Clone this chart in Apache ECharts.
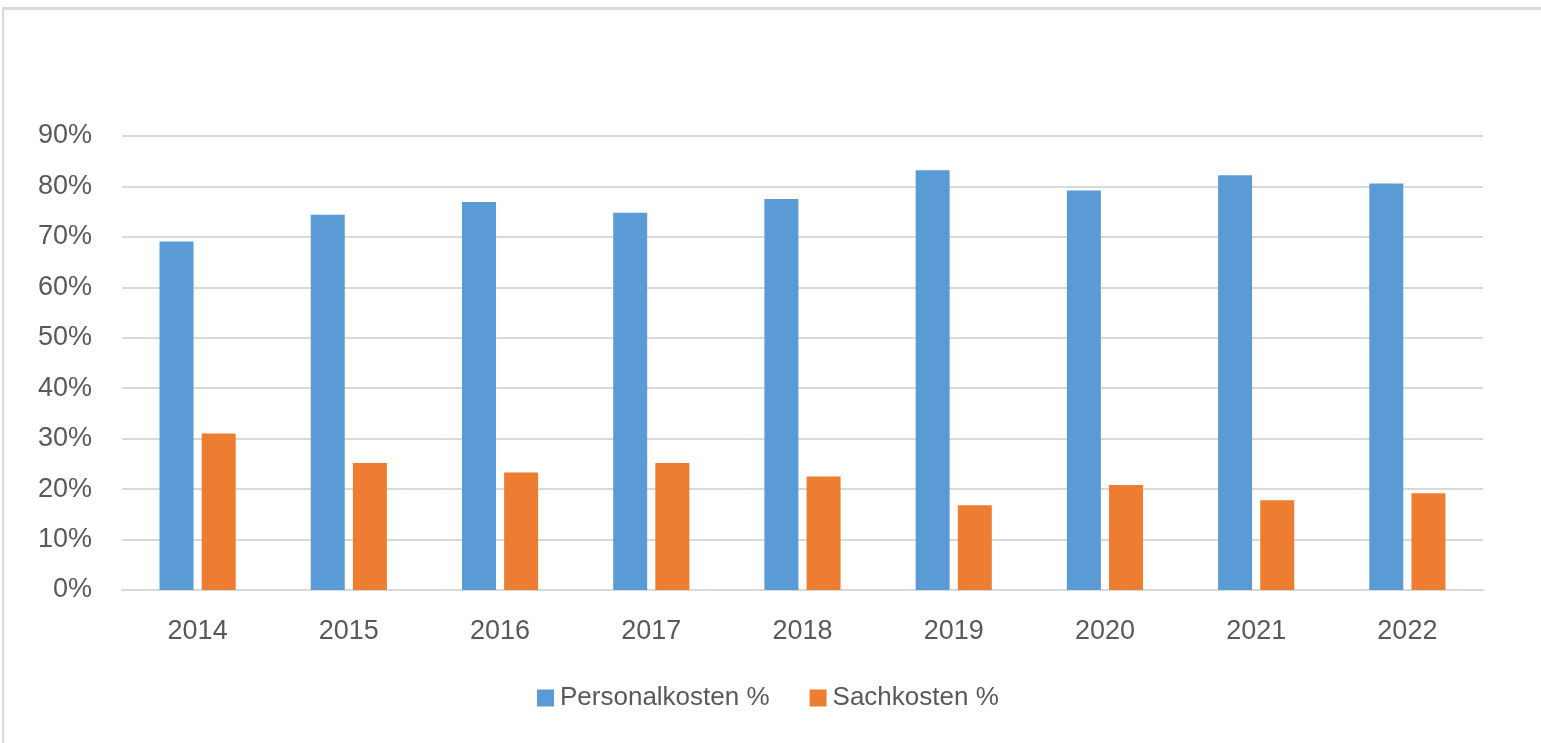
<!DOCTYPE html>
<html>
<head>
<meta charset="utf-8">
<title>Personalkosten / Sachkosten</title>
<script src="https://cdn.jsdelivr.net/npm/echarts@6/dist/echarts.min.js"></script>
<style>
  html, body { margin: 0; padding: 0; background: #fff; }
  #frame {
    position: absolute; left: 2px; top: 7px; width: 1600px; height: 800px;
    border-top: 3px solid #d9d9d9; border-left: 2px solid #d9d9d9;
  }
  #chart { position: absolute; left: 0; top: 0; width: 1541px; height: 743px; }
</style>
</head>
<body>
<div id="frame"></div>
<div id="chart"></div>
<script>
// years on the x axis
var years = ['2014', '2015', '2016', '2017', '2018', '2019', '2020', '2021', '2022']
// shares in percent
var personalkosten = [69.1, 74.4, 76.9, 74.8, 77.5, 83.2, 79.2, 82.2, 80.6]
var sachkosten = [31.0, 25.2, 23.3, 25.2, 22.5, 16.8, 20.8, 17.8, 19.2]
var seriesNames = ['Personalkosten %', 'Sachkosten %']

var chart = null

function initChart() {
  chart = echarts.init(document.getElementById('chart'))
  chart.setOption({
    animation: false,
    textStyle: {
      fontFamily: 'Liberation Sans, Arial, sans-serif'
    },
    grid: {
      left: 122,
      right: 58,
      top: 136,
      bottom: 153,
      containLabel: false
    },
    legend: {
      data: seriesNames,
      left: 532,
      bottom: 27,
      itemWidth: 17,
      itemHeight: 17,
      itemGap: 40,
      icon: 'rect',
      textStyle: {
        color: '#595959',
        fontSize: 26,
        padding: [0, 0, 0, 1]
      }
    },
    xAxis: [{
      type: 'category',
      data: years,
      axisLine: {
        show: true,
        lineStyle: { color: '#d9d9d9', width: 2 }
      },
      axisTick: { show: false },
      axisLabel: {
        color: '#595959',
        fontSize: 27,
        margin: 28
      }
    }],
    yAxis: [{
      type: 'value',
      min: 0,
      max: 90,
      interval: 10,
      axisLine: { show: false },
      axisTick: { show: false },
      axisLabel: {
        formatter: '{value}%',
        color: '#595959',
        fontSize: 27,
        margin: 30
      },
      splitLine: {
        lineStyle: { color: '#d9d9d9', width: 2 }
      }
    }],
    series: [{
      name: seriesNames[0],
      type: 'bar',
      data: personalkosten,
      barWidth: 34,
      barGap: '24%',
      itemStyle: { color: '#5b9bd5' }
    }, {
      name: seriesNames[1],
      type: 'bar',
      data: sachkosten,
      barWidth: 34,
      itemStyle: { color: '#ed7d31' }
    }]
  })
}

initChart()
</script>
</body>
</html>
